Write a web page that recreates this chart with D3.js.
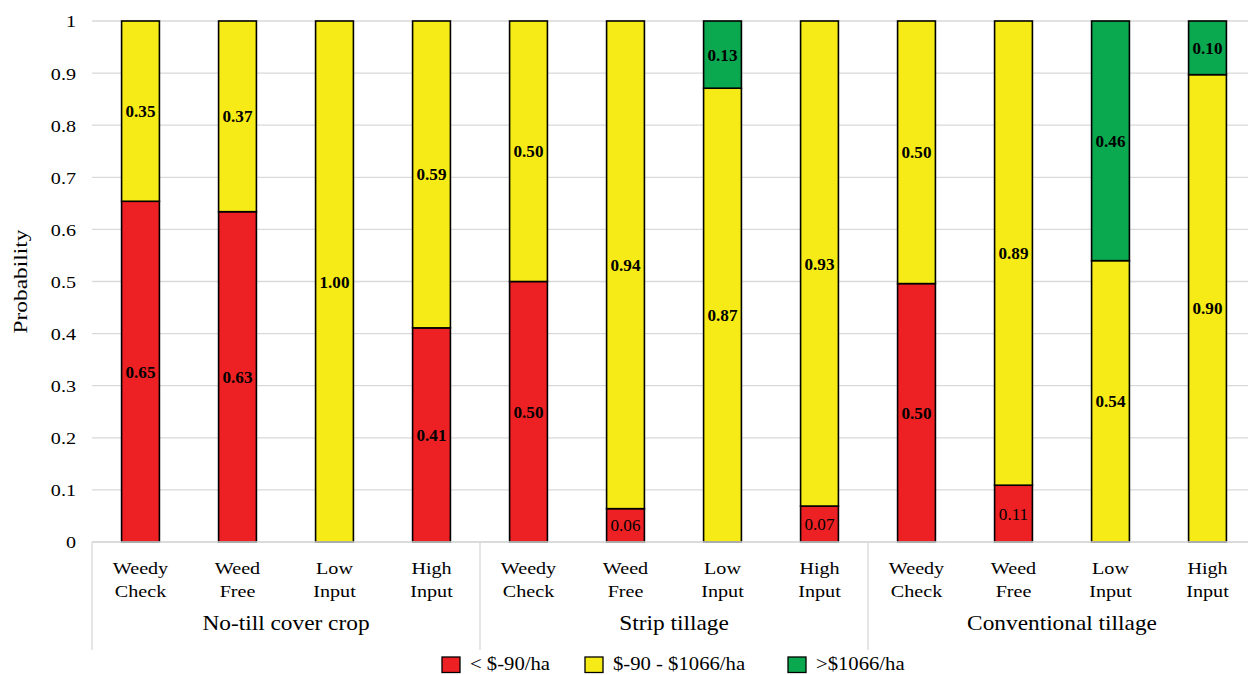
<!DOCTYPE html>
<html><head><meta charset="utf-8">
<script src="https://cdn.jsdelivr.net/npm/d3@7"></script>
<style>body{margin:0;background:#fff}svg{display:block}text{font-family:"Liberation Serif","Times New Roman",serif;fill:#000}</style>
</head><body><svg id="c" width="1248" height="675"></svg>
<script>
const groups = ["No-till cover crop", "Strip tillage", "Conventional tillage"];
const treatments = [["Weedy","Check"],["Weed","Free"],["Low","Input"],["High","Input"]];
const seriesNames = ["< $-90/ha", "$-90 - $1066/ha", ">$1066/ha"];
const lowValues  = [0.654, 0.634, 0, 0.411, 0.500, 0.064, 0, 0.069, 0.496, 0.109, 0, 0];
const midValues  = [0.346, 0.366, 1.00, 0.589, 0.500, 0.936, 0.871, 0.931, 0.504, 0.891, 0.540, 0.897];
const highValues = [0, 0, 0, 0, 0, 0, 0.129, 0, 0, 0, 0.460, 0.103];
const yTicks = [0,0.1,0.2,0.3,0.4,0.5,0.6,0.7,0.8,0.9,1];
const colors = ["#ED2024", "#F6EB16", "#0AA84F"];

const svg = d3.select("#c");
const mLeft = 92, mTop = 21, mBottom = 542, step = 97, SX = 1.15;
const keys = [];
groups.forEach((g,gi)=>treatments.forEach((t,ti)=>keys.push(gi*4+ti)));
const x = d3.scaleBand().domain(keys).range([mLeft, mLeft + step*keys.length]).paddingInner(0.61).paddingOuter(0.305);
const y = d3.scaleLinear().domain([0,1]).range([mBottom, mTop]);

function txt(parent, px, py, s, size, sx, anchor){
  return parent.append("text").attr("transform", `translate(${px},${py}) scale(${sx},1)`)
    .attr("text-anchor", anchor||"middle").attr("font-size", size).text(s);
}

// gridlines
svg.append("g").selectAll("line").data(yTicks).join("line")
  .attr("x1", mLeft).attr("x2", 1248).attr("y1", d=>y(d)).attr("y2", d=>y(d))
  .attr("stroke", "#d9d9d9").attr("stroke-width", 1.3);

// y axis labels
const yAxis = d3.axisLeft(y).tickValues(yTicks).tickFormat(d=>d===0?"0":d===1?"1":d3.format(".1f")(d)).tickSize(0).tickPadding(0);
const ya = svg.append("g").attr("transform", `translate(${mLeft},0)`).call(yAxis);
ya.select(".domain").remove();
ya.selectAll("text").attr("x", null).attr("dy", "0.34em").attr("font-size", 17.5)
  .attr("transform", `translate(-16,0) scale(${SX},1)`);

svg.append("text").attr("transform", `translate(27,${(mTop+mBottom)/2}) rotate(-90)`)
  .attr("text-anchor","middle").attr("font-size", 18.5)
  .attr("textLength", 104).attr("lengthAdjust", "spacingAndGlyphs").text("Probability");

// stacks
const rows = keys.map(k=>({k, low: lowValues[k], mid: midValues[k], high: highValues[k]}));
const stack = d3.stack().keys(["low","mid","high"])(rows);
stack.forEach((s,si)=>{
  const g = svg.append("g");
  s.forEach(d=>{
    const v = d[1]-d[0];
    if (v <= 0) return;
    g.append("rect").attr("x", x(d.data.k)).attr("width", x.bandwidth())
      .attr("y", y(d[1])).attr("height", y(d[0])-y(d[1]))
      .attr("fill", colors[si]).attr("stroke", "#000").attr("stroke-width", 1.6);
    const small = si===0 && v < 0.2;
    txt(g, x(d.data.k)+x.bandwidth()/2, (y(d[0])+y(d[1]))/2 + 6, d3.format(".2f")(v), 16, 1.07)
      .attr("font-weight", small ? "normal" : "bold");
  });
});

// category axis
const axisG = svg.append("g").attr("stroke", "#d9d9d9").attr("stroke-width", 1.3);
axisG.append("line").attr("x1", mLeft).attr("x2", 1248).attr("y1", mBottom).attr("y2", mBottom);
[0,4,8].forEach(i=>{
  const xx = x(i)-x.step()*x.paddingOuter();
  axisG.append("line").attr("x1", xx).attr("x2", xx).attr("y1", mBottom).attr("y2", 650);
});
keys.forEach(k=>{
  const t = treatments[k%4];
  const cx = x(k)+x.bandwidth()/2;
  t.forEach((line,li)=> txt(svg, cx, 574 + li*23, line, 17.5, SX));
});
groups.forEach((g,gi)=>{
  const x0 = x(gi*4) - x.step()*x.paddingOuter();
  txt(svg, x0 + x.step()*2, 630, g, 20.3, SX);
});

// legend
const legX = [442, 585, 788];
seriesNames.forEach((n,i)=>{
  svg.append("rect").attr("x", legX[i]).attr("y", 657).attr("width", 18).attr("height", 15.5)
    .attr("fill", colors[i]).attr("stroke", "#000").attr("stroke-width", 1.3);
  txt(svg, legX[i]+28, 670, n, 18, SX, "start");
});
</script></body></html>
